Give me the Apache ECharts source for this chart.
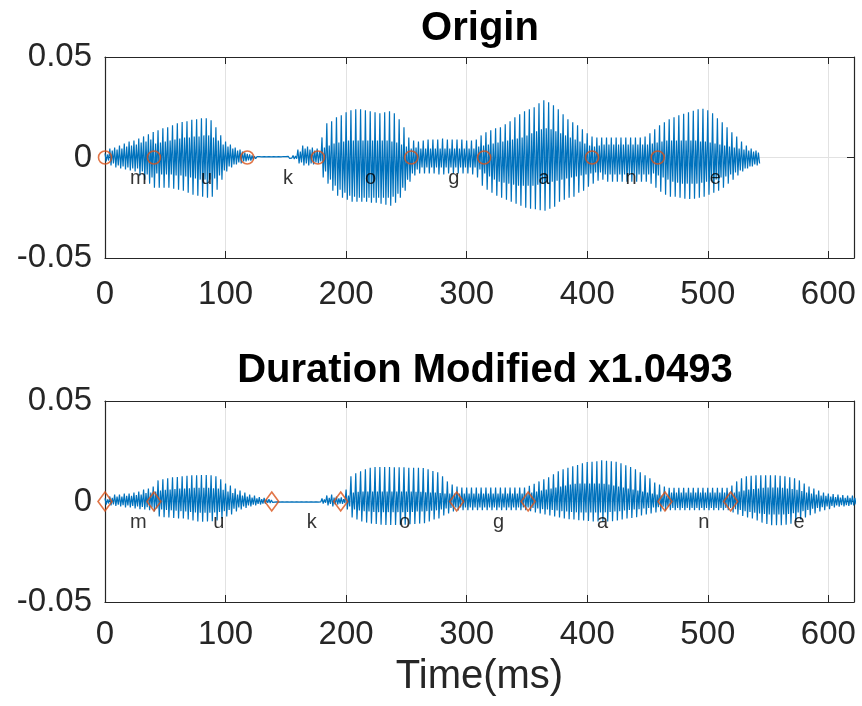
<!DOCTYPE html>
<html>
<head>
<meta charset="utf-8">
<script src="https://cdn.jsdelivr.net/npm/echarts@6/dist/echarts.min.js"></script>
<style>
  html, body { margin: 0; padding: 0; background: #ffffff; }
  #chart { width: 862px; height: 706px; }
</style>
</head>
<body>
<div id="chart"></div>
<script>
// Axis ranges and ticks
const xTicks = [0, 100, 200, 300, 400, 500, 600];
const yTicks = [-0.05, 0, 0.05];
const xMax = 621.3;
const binMs = 4;          // one envelope value per 4 ms
const ampUnit = 1e-4;     // envelope values are stored in units of 1e-4

// Phone segmentation (ms)
const phones = ['m', 'u', 'k', 'o', 'g', 'a', 'n', 'e'];
const originBounds = [0, 40.6, 118, 176.6, 254, 314.5, 404, 458.5, 544];
const modifiedBounds = [0, 40.6, 138.3, 195.5, 291.7, 351, 464.5, 519, 622.4];

// Original utterance: pitch-pulse peaks and the denser band between them
const originPeakUp = [
  20, 45, 50, 60, 70, 80, 85, 95, 105, 115,
  127, 135, 145, 150, 160, 170, 177, 180, 188, 190,
  195, 195, 185, 150, 110, 80, 65, 50, 40, 25,
  15, 6, 4, 4, 4, 4, 4, 5, 6, 10,
  40, 60, 55, 50, 45, 100, 170, 180, 200, 210,
  225, 235, 240, 240, 235, 230, 225, 220, 225, 230,
  220, 190, 150, 100, 85, 80, 85, 90, 90, 90,
  95, 90, 90, 90, 90, 85, 85, 90, 110, 125,
  135, 145, 150, 165, 180, 200, 215, 230, 240, 250,
  270, 285, 275, 260, 240, 215, 190, 175, 160, 140,
  120, 105, 100, 100, 100, 100, 100, 100, 100, 100,
  100, 100, 105, 120, 140, 160, 175, 190, 200, 210,
  218, 225, 232, 240, 243, 235, 220, 195, 175, 150,
  125, 105, 80, 60, 45, 35
];
const originPeakDown = [
  -20, -40, -50, -55, -60, -65, -70, -90, -110, -130,
  -150, -150, -150, -150, -155, -160, -165, -175, -185, -190,
  -195, -200, -195, -160, -110, -70, -50, -35, -30, -20,
  -15, -6, -4, -4, -4, -4, -4, -4, -4, -8,
  -30, -40, -40, -35, -30, -100, -130, -165, -190, -200,
  -210, -220, -220, -220, -220, -225, -225, -230, -235, -240,
  -225, -200, -165, -120, -90, -80, -80, -80, -80, -85,
  -85, -80, -80, -80, -80, -80, -85, -100, -140, -160,
  -175, -190, -200, -210, -220, -230, -240, -250, -255, -258,
  -262, -265, -255, -245, -220, -210, -200, -195, -175, -165,
  -145, -130, -115, -110, -120, -120, -120, -120, -120, -120,
  -120, -120, -120, -130, -150, -170, -185, -195, -195, -200,
  -205, -207, -205, -200, -195, -185, -175, -165, -150, -130,
  -110, -90, -70, -55, -45, -40
];
const originBandUp = [
  15, 35, 40, 45, 55, 60, 65, 75, 80, 90,
  70, 75, 80, 85, 90, 95, 100, 100, 105, 105,
  110, 110, 100, 85, 65, 55, 45, 35, 30, 18,
  10, 4, 3, 3, 3, 3, 3, 4, 4, 8,
  30, 45, 40, 35, 30, 50, 60, 70, 75, 80,
  85, 85, 85, 85, 85, 85, 85, 85, 85, 80,
  75, 65, 55, 45, 50, 45, 45, 45, 45, 45,
  45, 45, 45, 45, 45, 45, 45, 55, 60, 65,
  70, 75, 80, 85, 90, 95, 100, 110, 120, 130,
  140, 145, 140, 130, 120, 110, 100, 90, 80, 70,
  60, 55, 60, 65, 65, 65, 65, 65, 65, 65,
  65, 65, 65, 70, 75, 80, 85, 85, 85, 85,
  85, 85, 85, 80, 80, 75, 70, 65, 60, 55,
  50, 45, 40, 35, 30, 25
];
const originBandDown = [
  -15, -30, -40, -45, -50, -55, -55, -70, -85, -100,
  -80, -85, -85, -85, -90, -90, -95, -100, -105, -110,
  -110, -110, -105, -90, -65, -45, -35, -25, -20, -14,
  -10, -4, -3, -3, -3, -3, -3, -3, -3, -6,
  -25, -30, -30, -25, -20, -70, -110, -140, -160, -175,
  -190, -195, -200, -200, -200, -200, -200, -200, -200, -195,
  -180, -150, -110, -80, -60, -50, -50, -50, -50, -50,
  -50, -50, -50, -50, -50, -50, -50, -60, -80, -95,
  -110, -120, -125, -130, -135, -140, -140, -140, -140, -135,
  -130, -125, -120, -115, -110, -105, -100, -95, -90, -85,
  -80, -75, -75, -85, -85, -85, -85, -85, -85, -85,
  -85, -85, -85, -80, -90, -100, -110, -120, -125, -130,
  -130, -130, -130, -125, -120, -115, -110, -100, -95, -85,
  -75, -65, -55, -45, -35, -30
];

// Duration-modified utterance
const modPeakUp = [
  15, 25, 35, 35, 40, 40, 45, 50, 60, 65,
  75, 105, 110, 115, 120, 122, 125, 128, 130, 130,
  132, 132, 130, 125, 110, 90, 80, 65, 55, 45,
  35, 30, 22, 18, 12, 3, 3, 3, 3, 3,
  3, 3, 3, 3, 3, 15, 30, 35, 25, 20,
  60, 125, 140, 150, 160, 168, 172, 172, 172, 172,
  170, 170, 170, 168, 168, 168, 166, 160, 152, 145,
  125, 100, 85, 75, 70, 70, 70, 70, 70, 70,
  70, 70, 70, 70, 70, 70, 70, 70, 78, 88,
  100, 110, 120, 135, 150, 160, 168, 175, 182, 190,
  196, 198, 200, 205, 203, 200, 198, 190, 180, 172,
  160, 145, 130, 115, 95, 85, 75, 68, 68, 68,
  68, 68, 68, 68, 68, 68, 68, 68, 68, 68,
  80, 100, 115, 125, 128, 130, 130, 130, 130, 130,
  128, 125, 120, 115, 105, 90, 75, 65, 55, 45,
  40, 37, 35, 32, 30, 30
];
const modPeakDown = [
  -15, -20, -22, -25, -30, -30, -35, -38, -40, -43,
  -50, -75, -78, -80, -82, -85, -85, -90, -95, -100,
  -101, -100, -98, -95, -85, -75, -65, -50, -40, -32,
  -25, -20, -15, -10, -8, -3, -3, -3, -3, -3,
  -3, -3, -3, -3, -3, -10, -20, -25, -15, -12,
  -40, -80, -90, -100, -105, -110, -112, -115, -117, -117,
  -117, -116, -115, -113, -112, -110, -108, -100, -90, -85,
  -70, -60, -50, -45, -43, -43, -43, -43, -43, -43,
  -43, -43, -43, -43, -43, -43, -43, -43, -48, -55,
  -60, -65, -70, -75, -80, -85, -88, -90, -93, -95,
  -97, -100, -100, -100, -100, -98, -95, -90, -85, -82,
  -78, -70, -65, -60, -55, -50, -45, -43, -43, -43,
  -43, -43, -43, -43, -43, -43, -43, -43, -43, -43,
  -55, -65, -72, -80, -85, -95, -105, -112, -118, -118,
  -118, -115, -110, -100, -90, -80, -68, -60, -50, -43,
  -38, -30, -26, -25, -22, -20
];
const modBandUp = [
  10, 18, 25, 25, 28, 28, 32, 35, 42, 45,
  50, 55, 58, 60, 62, 64, 65, 66, 68, 68,
  68, 68, 66, 64, 58, 50, 42, 35, 30, 25,
  20, 16, 12, 10, 8, 2, 2, 2, 2, 2,
  2, 2, 2, 2, 2, 10, 18, 20, 15, 12,
  30, 45, 48, 50, 50, 50, 50, 50, 50, 50,
  50, 50, 50, 50, 48, 48, 46, 45, 45, 42,
  40, 40, 40, 40, 40, 40, 40, 40, 40, 40,
  40, 40, 40, 40, 40, 40, 40, 40, 45, 50,
  55, 60, 65, 70, 75, 80, 85, 88, 90, 90,
  90, 90, 90, 88, 85, 80, 75, 70, 65, 60,
  55, 50, 45, 40, 35, 30, 30, 45, 45, 45,
  45, 45, 45, 45, 45, 45, 45, 45, 45, 45,
  45, 50, 55, 60, 62, 65, 68, 70, 70, 70,
  68, 65, 62, 58, 52, 45, 40, 35, 30, 28,
  25, 22, 20, 18, 18, 18
];
const modBandDown = [
  -10, -14, -16, -18, -20, -22, -25, -27, -28, -30,
  -35, -40, -42, -44, -46, -48, -50, -52, -55, -56,
  -56, -56, -55, -52, -48, -42, -36, -30, -24, -20,
  -16, -12, -10, -7, -5, -2, -2, -2, -2, -2,
  -2, -2, -2, -2, -2, -6, -12, -15, -10, -8,
  -25, -40, -45, -48, -50, -52, -53, -53, -53, -53,
  -53, -53, -52, -52, -50, -50, -48, -46, -44, -40,
  -35, -32, -30, -30, -30, -30, -30, -30, -30, -30,
  -30, -30, -30, -30, -30, -30, -30, -30, -32, -35,
  -38, -40, -42, -45, -48, -50, -52, -54, -55, -55,
  -55, -55, -55, -54, -52, -50, -48, -45, -42, -40,
  -38, -35, -32, -30, -28, -26, -25, -32, -32, -32,
  -32, -32, -32, -32, -32, -32, -32, -32, -32, -32,
  -38, -42, -48, -52, -56, -60, -62, -64, -65, -65,
  -65, -62, -58, -54, -48, -42, -36, -32, -28, -25,
  -22, -20, -18, -18, -16, -15
];

// ---- building the series ----
const INK = '#262626';
const WAVE = '#0072BD';
const MARK = '#D95319';
const FONT = '"Liberation Sans", Arial, Helvetica, sans-serif';

// Each bin: pitch pulse (peak up, peak down) followed by one swing of the denser band
function waveform(up, down, bandUp, bandDown) {
  const pts = [];
  for (let i = 0; i < up.length; i++) {
    const t = i * binMs;
    pts.push([t, up[i] * ampUnit]);
    pts.push([t + 1, down[i] * ampUnit]);
    pts.push([t + 2, bandUp[i] * ampUnit]);
    pts.push([t + 3, bandDown[i] * ampUnit]);
  }
  return pts;
}
function boundaryMarks(bounds) {
  return bounds.slice(0, -1).map(b => [b, 0]);
}
function phoneLabels(bounds) {
  return phones.map((p, i) => ({ name: p, value: [(bounds[i] + bounds[i + 1]) / 2, -0.0105] }));
}

const gridBoxes = [
  { left: 105, top: 57, width: 749, height: 201 },
  { left: 105, top: 401, width: 749, height: 201 }
];
const xLabelMargin = [20, 16];

const xAxes = [], yAxes = [];
gridBoxes.forEach((g, gi) => {
  xAxes.push({
    type: 'value', gridIndex: gi, position: 'bottom', min: 0, max: xMax, interval: 100,
    axisLine: { show: true, onZero: false, lineStyle: { color: INK, width: 1.2 } },
    axisTick: { show: true, inside: true, length: 7, lineStyle: { color: INK } },
    axisLabel: { show: true, fontSize: 33, color: INK, fontFamily: FONT, margin: xLabelMargin[gi],
      formatter: v => (xTicks.indexOf(v) >= 0 ? String(v) : '') },
    splitLine: { show: true, lineStyle: { color: '#e2e2e2', width: 1 } },
    name: gi === 1 ? 'Time(ms)' : '', nameLocation: 'middle', nameGap: 55,
    nameTextStyle: { fontSize: 40, color: INK, fontFamily: FONT }
  });
  xAxes.push({
    type: 'value', gridIndex: gi, position: 'top', min: 0, max: xMax, interval: 100,
    axisLine: { show: true, onZero: false, lineStyle: { color: INK, width: 1.2 } },
    axisTick: { show: true, inside: true, length: 7, lineStyle: { color: INK } },
    axisLabel: { show: false }, splitLine: { show: false }
  });
  yAxes.push({
    type: 'value', gridIndex: gi, position: 'left', min: yTicks[0], max: yTicks[yTicks.length - 1], interval: 0.05,
    axisLine: { show: true, onZero: false, lineStyle: { color: INK, width: 1.2 } },
    axisTick: { show: true, inside: true, length: 7, lineStyle: { color: INK } },
    axisLabel: { show: true, fontSize: 33, color: INK, fontFamily: FONT, margin: 13,
      formatter: v => (Math.abs(v) < 1e-9 ? '0' : v.toFixed(2)) },
    splitLine: { show: true, lineStyle: { color: '#e2e2e2', width: 1 } }
  });
  yAxes.push({
    type: 'value', gridIndex: gi, position: 'right', min: yTicks[0], max: yTicks[yTicks.length - 1], interval: 0.05,
    axisLine: { show: true, onZero: false, lineStyle: { color: INK, width: 1.2 } },
    axisTick: { show: true, inside: true, length: 7, lineStyle: { color: INK } },
    axisLabel: { show: false }, splitLine: { show: false }
  });
});

function waveSeries(ax, data) {
  return {
    type: 'line', xAxisIndex: ax, yAxisIndex: ax, data: data,
    showSymbol: false, symbol: 'none', silent: true, clip: true,
    lineStyle: { color: WAVE, width: 1.2 }, z: 2
  };
}
function markSeries(ax, data, symbol, size) {
  return {
    type: 'scatter', xAxisIndex: ax, yAxisIndex: ax, data: data, symbol: symbol, symbolSize: size,
    silent: true, itemStyle: { color: 'rgba(255,255,255,0)', borderColor: MARK, borderWidth: 1.6 }, z: 4
  };
}
function labelSeries(ax, data) {
  return {
    type: 'scatter', xAxisIndex: ax, yAxisIndex: ax, data: data, symbolSize: 1, silent: true,
    itemStyle: { color: 'rgba(0,0,0,0)' }, z: 5,
    label: { show: true, position: 'right', distance: 0, formatter: '{b}',
      fontSize: 20, color: '#000000', fontFamily: FONT }
  };
}

const option = {
  animation: false,
  backgroundColor: '#ffffff',
  title: [
    { text: 'Origin', left: 475, top: 4, textAlign: 'center',
      textStyle: { fontSize: 40, fontWeight: 'bold', color: '#000000', fontFamily: FONT } },
    { text: 'Duration Modified x1.0493', left: 480, top: 346, textAlign: 'center',
      textStyle: { fontSize: 40, fontWeight: 'bold', color: '#000000', fontFamily: FONT } }
  ],
  grid: gridBoxes.map(g => Object.assign({ containLabel: false }, g)),
  xAxis: xAxes,
  yAxis: yAxes,
  series: [
    waveSeries(0, waveform(originPeakUp, originPeakDown, originBandUp, originBandDown)),
    markSeries(0, boundaryMarks(originBounds), 'circle', 13),
    labelSeries(0, phoneLabels(originBounds)),
    waveSeries(2, waveform(modPeakUp, modPeakDown, modBandUp, modBandDown)),
    markSeries(2, boundaryMarks(modifiedBounds), 'diamond', [14, 19]),
    labelSeries(2, phoneLabels(modifiedBounds))
  ]
};

const chart = echarts.init(document.getElementById('chart'), null, { renderer: 'canvas' });
chart.setOption(option);
</script>
</body>
</html>
